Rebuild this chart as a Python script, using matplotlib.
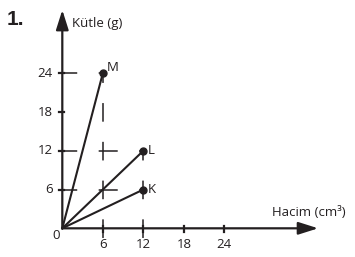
import matplotlib.pyplot as plt

plt.rcParams["font.family"] = ["Open Sans", "DejaVu Sans"]
plt.rcParams["lines.scale_dashes"] = False

# data
names = ["M", "L", "K"]
volumes = [6, 12, 12]
masses = [24, 12, 6]
x_ticks = [6, 12, 18, 24]
y_ticks = [6, 12, 18, 24]

ink = "#231f20"

fig = plt.figure(figsize=(3.55, 2.57), dpi=100)
ax = fig.add_axes([0, 0, 1, 1])
ax.set_xlim(-9.23, 43.36)
ax.set_ylim(-4.44, 35.34)
ax.axis("off")

dpi = fig.dpi


def to_pt(dx, dy):
    p0 = ax.transData.transform((0, 0))
    p1 = ax.transData.transform((dx, dy))
    return abs((p1 - p0)[0] + (p1 - p0)[1]) * 72 / dpi


# dashed guide lines, dashes centred on grid crossings
px = to_pt(6, 0)
py = to_pt(0, 6)
on_x, on_y = px * 0.47, py * 0.48
below = 1.6
for v, m in zip(volumes, masses):
    ax.plot([0.4, v], [m, m], color=ink, lw=1.1,
            linestyle=((on_x / 2 - to_pt(0.4, 0)) % px, (on_x, px - on_x)), zorder=1)
for xv in sorted(set(volumes)):
    top = max(m for v, m in zip(volumes, masses) if v == xv)
    ax.plot([xv, xv], [-below, top], color=ink, lw=1.1,
            linestyle=((on_y / 2 - to_pt(0, below)) % py, (on_y, py - on_y)), zorder=1)

# axes with arrows
arrow = dict(arrowstyle="-|>,head_length=1.2,head_width=0.38",
             color=ink, lw=1.6, shrinkA=0, shrinkB=0)
ax.annotate("", xy=(0, 33.8), xytext=(0, 0), arrowprops=arrow)
ax.annotate("", xy=(37.9, 0), xytext=(0, 0), arrowprops=arrow)

# ticks
for t in x_ticks:
    ax.plot([t, t], [-0.6, 0.3], color=ink, lw=1.6)
    ax.text(t, -1.5, str(t), ha="center", va="top", fontsize=9.5, color=ink)
for t in y_ticks:
    ax.plot([-0.5, 0.3], [t, t], color=ink, lw=1.6)
    ax.text(-1.4, t, str(t), ha="right", va="center", fontsize=9.5, color=ink)
ax.text(-0.4, -1.1, "0", ha="right", va="center", fontsize=9.5, color=ink)

# data lines and points
for n, v, m in zip(names, volumes, masses):
    ax.plot([0, v], [0, m], color=ink, lw=1.5, zorder=3)
    ax.plot(v, m, "o", color=ink, markersize=5, zorder=4)
off = {"M": (0.6, 0.9), "L": (0.6, 0.1), "K": (0.6, 0.0)}
for n, v, m in zip(names, volumes, masses):
    ax.text(v + off[n][0], m + off[n][1], n, ha="left", va="center",
            fontsize=9.5, color=ink)

ax.text(1.4, 31.7, "Kütle (g)", ha="left", va="center", fontsize=9.5, color=ink)
ax.text(31.1, 2.5, "Hacim (cm³)", ha="left", va="center", fontsize=9.5, color=ink)
ax.text(-8.3, 32.3, "1.", ha="left", va="center", fontsize=15,
        fontweight="bold", family="Liberation Sans", color=ink)

plt.savefig("out.png", dpi=100)
